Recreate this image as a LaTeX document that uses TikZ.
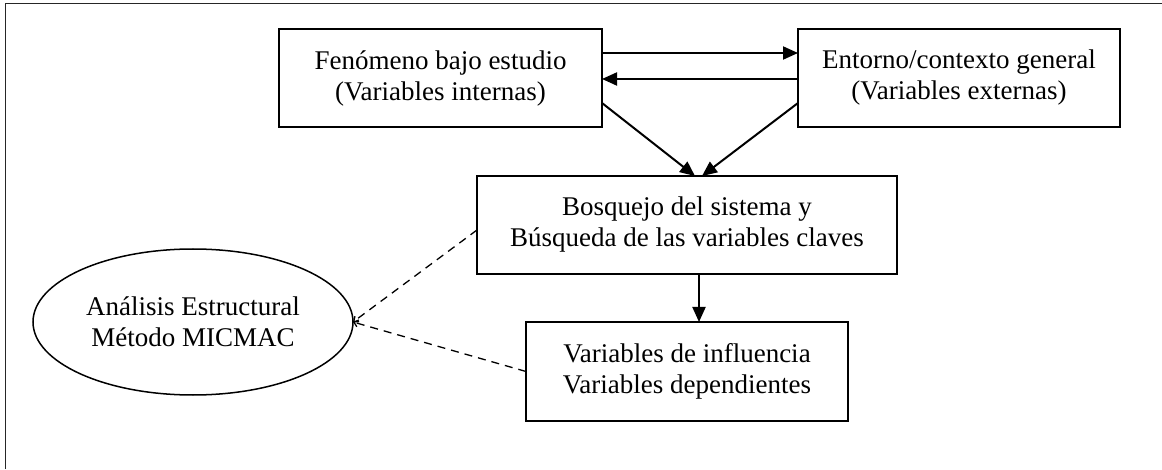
\documentclass[tikz,border=0pt]{standalone}
\usepackage{fontspec}
\setmainfont{Liberation Serif}
\usetikzlibrary{arrows.meta,shapes.geometric}
\begin{document}
\begin{tikzpicture}[x=1pt,y=1pt,
  every node/.style={font=\fontsize{27}{31}\selectfont},
  boxnode/.style={draw,line width=1.5pt,rectangle,outer sep=0pt,inner sep=0pt,align=center},
  arr/.style={line width=2pt,-{Triangle[length=15pt,width=13pt]}},
  dashline/.style={line width=1.3pt,dash pattern=on 8pt off 6pt,-{Straight Barb[length=4pt,width=7pt]}},
  frame/.style={line width=1.8pt,draw=black!85}]
\useasboundingbox (0,0) rectangle (1162,469);
\draw[frame] (5.5,0) -- (5.5,465.5) -- (1162,465.5);
\node[boxnode,minimum width=323pt,minimum height=98pt] (b1) at (440.5,391) {Fenómeno bajo estudio\\(Variables internas)};
\node[boxnode,minimum width=322pt,minimum height=98pt] (b2) at (959,391) {Entorno/contexto general\\(Variables externas)};
\node[boxnode,minimum width=420pt,minimum height=98pt] (b3) at (687,244) {Bosquejo del sistema y\\Búsqueda de las variables claves};
\node[boxnode,minimum width=322pt,minimum height=99pt] (b4) at (687,97.5) {Variables de influencia\\Variables dependientes};
\node[draw,ellipse,line width=1.5pt,minimum width=320pt,minimum height=146pt,inner sep=0pt,outer sep=0pt,align=center] (el) at (193,147) {Análisis Estructural\\Método MICMAC};
\draw[arr] ([yshift=25]b1.east) -- ([yshift=25]b2.west);
\draw[arr] ([yshift=-1]b2.west) -- ([yshift=-1]b1.east);
\draw[arr] ([yshift=-25]b1.east) -- ([xshift=8]b3.north);
\draw[arr] ([yshift=-25]b2.west) -- ([xshift=15]b3.north);
\draw[arr] ([xshift=12]b3.south) -- ([xshift=12]b4.north);
\draw[dashline] ([yshift=-5]b3.west) -- (el.east);
\draw[dashline] (b4.west) -- (el.east);
\end{tikzpicture}
\end{document}
